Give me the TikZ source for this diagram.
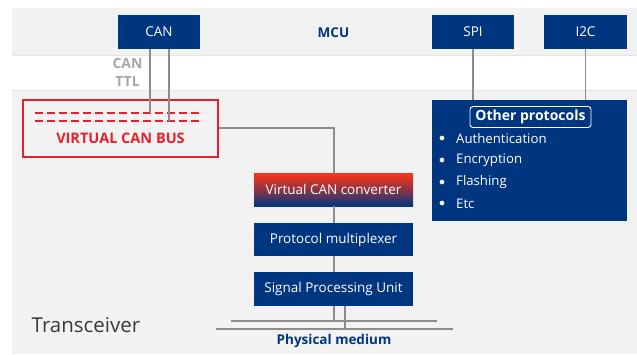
\documentclass[tikz,border=0pt]{standalone}
\usepackage{fontspec}
\setmainfont{Open Sans}
\usetikzlibrary{positioning}
\definecolor{mcublue}{HTML}{003580}
\definecolor{busred}{HTML}{E8202A}
\definecolor{hotred}{HTML}{FF3414}
\definecolor{bandgray}{HTML}{F2F2F2}
\definecolor{wiregray}{HTML}{8C8C8C}
\definecolor{labgray}{HTML}{A6A6A6}
\definecolor{txtdark}{HTML}{3A3A3A}

\tikzset{
  blk/.style={fill=mcublue, text=white, minimum width=82pt, minimum height=34pt, inner sep=0pt, font=\fontsize{13.5}{16}\selectfont},
  unit/.style={blk, minimum width=159pt, minimum height=33pt},
  wire/.style={draw=wiregray, line width=1.4pt},
  busline/.style={draw=busred, line width=1.2pt, dash pattern=on 8pt off 4pt},
}

\begin{document}
\begin{tikzpicture}[x=1pt, y=-1pt]
\useasboundingbox (0,0) rectangle (637,354);
% bands
\fill[bandgray] (12,8) rectangle (637,55);
\fill[bandgray] (12,90) rectangle (637,354);
\draw[black!10, line width=0.8pt] (12,55) -- (637,55) (12,90) -- (637,90);

% MCU row
\node[blk] (can) at (159,32) {CAN};
\node[blk] (spi) at (473,32) {SPI};
\node[blk, minimum width=83pt] (i2c) at (585.5,32) {I2C};
\node[text=mcublue, font=\fontsize{13.5}{16}\selectfont\bfseries] (mcu) at (333.5,33) {MCU};
\node[text=labgray, font=\fontsize{14}{18}\selectfont\bfseries, align=center] (ttl) at (127.5,72) {CAN\\TTL};

% virtual bus
\node[draw=busred, line width=1.3pt, minimum width=195pt, minimum height=57pt] (vbus) at (120.5,128.5) {};
\node[text=busred, font=\fontsize{14.5}{17}\selectfont\bfseries] (vbuslbl) at (120.5,138) {VIRTUAL CAN BUS};
\draw[busline] (35,113) -- (203,113);
\draw[busline] (35,121) -- (203,121);
\coordinate (tapa) at (150,113);
\coordinate (tapb) at (169,121);
\draw[wire] (can.south -| tapa) -- (tapa);
\draw[wire] (can.south -| tapb) -- (tapb);

% transceiver chain
\node[unit, top color=hotred, bottom color=mcublue, middle color=hotred!55!mcublue] (conv) at (333.5,189.5) {Virtual CAN converter};
\node[unit] (mux) at (333.5,239.5) {Protocol multiplexer};
\node[unit, minimum height=34pt] (spu) at (333.5,289) {Signal Processing Unit};
\draw[wire] (vbus.east |- 0,128) -- (334,128) -- (conv.north -| 334,0);
\draw[wire] (conv.south -| 334,0) -- (mux.north -| 334,0);
\draw[wire] (mux.south -| 334,0) -- (spu.north -| 334,0);

% physical medium
\coordinate (meda) at (231,321);
\coordinate (medb) at (437,321);
\coordinate (medc) at (216,329);
\coordinate (medd) at (453,329);
\draw[wire] (meda) -- (medb);
\draw[wire] (medc) -- (medd);
\draw[wire] (spu.south -| 334,0) -- (334,321);
\draw[wire] (spu.south -| 345,0) -- (345,329);
\node[text=mcublue, font=\fontsize{13.5}{16}\selectfont\bfseries] (phy) at (334,341) {Physical medium};
\node[text=txtdark, font=\fontsize{20.5}{24}\selectfont] (trx) at (86,325) {Transceiver};

% other protocols
\node[fill=mcublue, minimum width=195pt, minimum height=121pt] (other) at (529.5,160.5) {};
\node[draw=white, line width=0.9pt, rounded corners=3pt, text=white, minimum width=121pt, minimum height=21pt, inner sep=0pt, font=\fontsize{14}{16}\selectfont\bfseries] (othertitle) at (530.5,117) {Other protocols};
\foreach \txt [count=\i] in {Authentication, Encryption, Flashing, Etc} {
  \node[text=white, font=\fontsize{12}{14}\selectfont] (dot\i) at (442,117.3+21.7*\i) {$\bullet$};
  \node[text=white, anchor=west, inner sep=0pt, font=\fontsize{13.2}{15}\selectfont] (item\i) at (456,117.3+21.7*\i) {\txt};
}
\draw[wire] (spi.south) -- (other.north -| spi.south);
\draw[wire] (i2c.south) -- (other.north -| i2c.south);
\end{tikzpicture}
\end{document}
